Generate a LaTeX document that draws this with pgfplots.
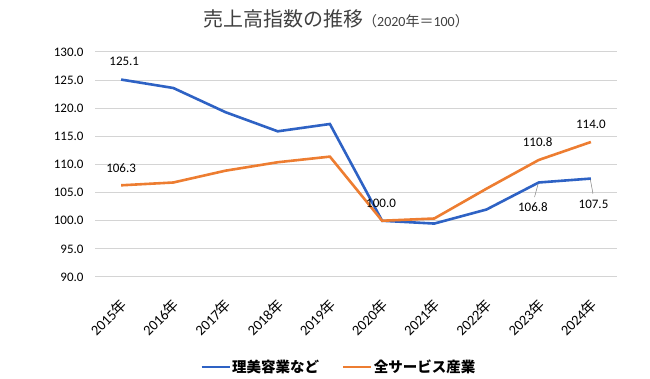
\documentclass[border=0pt]{standalone}
\usepackage{pgfplots}
\pgfplotsset{compat=1.18}
\usepackage{fontspec}
\setmainfont{Carlito}
\newfontfamily\cjk{Noto Sans CJK JP}
\definecolor{cblue}{HTML}{2E62C4}
\definecolor{corange}{HTML}{ED7D31}
\newcommand{\yr}[1]{#1{\cjk 年}}
\begin{document}
\begin{tikzpicture}[x=1pt,y=1pt]
\begin{axis}[
  scale only axis, width=522, height=225,
  xmin=-0.5, xmax=9.5, ymin=90, ymax=130,
  ytick={90,95,...,130},
  xtick={0,...,9},
  xticklabels={\yr{2015},\yr{2016},\yr{2017},\yr{2018},\yr{2019},\yr{2020},\yr{2021},\yr{2022},\yr{2023},\yr{2024}},
  x tick label style={xshift=-2pt, yshift=-20pt, rotate=45, anchor=north east, font=\fontsize{14.5}{16}\selectfont, inner sep=0pt},
  y tick label style={font=\fontsize{13}{15}\selectfont, xshift=-8pt},
  /pgf/number format/.cd, fixed, fixed zerofill, precision=1, assume math mode=true,
  /pgfplots/.cd,
  axis line style={draw=none},
  major tick length=0pt,
  ymajorgrids, grid style={black!17, line width=1pt},
  legend style={at={(0.466,-0.4)}, anchor=center, draw=none, legend columns=2,
    font=\fontsize{14.5}{16}\selectfont\cjk\bfseries, inner sep=0pt,
    nodes={inner sep=1pt},
    /tikz/every even column/.append style={column sep=22pt}},
  legend cell align=left,
  legend image code/.code={\draw[#1, line width=2.8pt] (0pt,0pt) -- (28pt,0pt);},
  clip=false,
]
\coordinate (O) at (rel axis cs:0,0);
\addplot[cblue, line width=2.6pt, mark=none] coordinates {
(0,125.1) (1,123.6) (2,119.3) (3,115.9) (4,117.2) (5,100.0) (6,99.5) (7,102.0) (8,106.8) (9,107.5)};
\addlegendentry{理美容業など}
\addplot[corange, line width=2.6pt, mark=none] coordinates {
(0,106.3) (1,106.8) (2,108.9) (3,110.4) (4,111.4) (5,100.0) (6,100.4) (7,105.7) (8,110.8) (9,114.0)};
\addlegendentry{全サービス産業}
\begin{scope}[every node/.style={font=\fontsize{13}{15}\selectfont}]
\node at (axis cs:0.06,128.3) {125.1};
\node at (axis cs:0,109.4) {106.3};
\node at (axis cs:4.98,103.1) {100.0};
\node at (axis cs:7.98,114.0) {110.8};
\node at (axis cs:9.0,117.2) {114.0};
\node at (axis cs:7.89,102.4) {106.8};
\node at (axis cs:9.05,103.0) {107.5};
\end{scope}
\draw[black!50, line width=0.5pt] (axis cs:7.99,106.6) -- (axis cs:7.92,104.2);
\draw[black!50, line width=0.5pt] (axis cs:8.99,107.3) -- (axis cs:9.04,104.8);
\end{axis}
\node[text=black!75] at ([xshift=241pt,yshift=258.5pt]O) {\fontsize{20}{22}\selectfont{\cjk 売上高指数の推移}\fontsize{14}{16}\selectfont{\cjk （}2020{\cjk 年＝}100{\cjk ）}};
\pgfresetboundingbox
\path[use as bounding box] ([xshift=-95pt,yshift=-102pt]O) rectangle ([xshift=555pt,yshift=277pt]O);
\end{tikzpicture}
\end{document}
